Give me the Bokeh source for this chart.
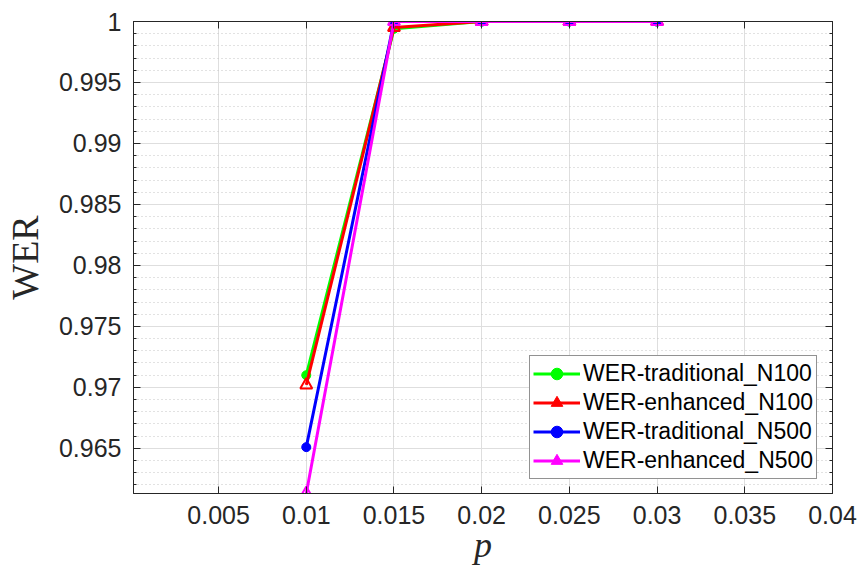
from bokeh.plotting import figure
from bokeh.models import (FixedTicker, LinearAxis, Legend, LegendItem, Range1d,
                          CustomLabelingPolicy)
from bokeh.embed import file_html
from bokeh.resources import INLINE

# ---- data ----
p_vals = [0.01, 0.015, 0.02, 0.025, 0.03]
wer_trad_n100 = [0.9710, 0.9994, 1.0, 1.0, 1.0]
wer_enh_n100 = [0.9702, 0.9995, 1.0, 1.0, 1.0]
wer_trad_n500 = [0.9651, 1.0, 1.0, 1.0, 1.0]
wer_enh_n500 = [0.9613, 1.0, 1.0, 1.0, 1.0]

x_ticks = [0.005, 0.01, 0.015, 0.02, 0.025, 0.03, 0.035, 0.04]
x_tick_labels = ["0.005", "0.01", "0.015", "0.02", "0.025", "0.03", "0.035", "0.04"]
y_ticks = [0.965, 0.97, 0.975, 0.98, 0.985, 0.99, 0.995, 1.0]
y_tick_labels = ["0.965", "0.97", "0.975", "0.98", "0.985", "0.99", "0.995", "1"]
y_minor = [round(0.962 + 0.001 * i, 3) for i in range(39)]

series_names = ["WER-traditional_N100", "WER-enhanced_N100",
                "WER-traditional_N500", "WER-enhanced_N500"]

AX = "#262626"
TICK_FONT = "Liberation Sans"

FW, FH = 699, 472
p = figure(frame_width=FW, frame_height=FH,
           x_range=Range1d(0.00015, 0.04), y_range=Range1d(0.9613, 1.0),
           output_backend="svg", toolbar_location=None,
           min_border_left=126, min_border_top=12, min_border_right=23,
           min_border_bottom=60, background_fill_color="white",
           border_fill_color="white")
p.outline_line_color = AX
p.outline_line_width = 1

xt = FixedTicker(ticks=x_ticks, minor_ticks=[])
yt = FixedTicker(ticks=y_ticks, minor_ticks=y_minor)

for ax in p.xaxis:
    ax.ticker = xt
    ax.major_label_overrides = dict(zip(x_ticks, x_tick_labels))
for ax in p.yaxis:
    ax.ticker = yt
    ax.major_label_overrides = dict(zip(y_ticks, y_tick_labels))

no_labels = CustomLabelingPolicy(code="""
for (let i = 0; i < indices.size; i++) { indices.unset(i) }
return indices
""")

def style_axis(ax, labels=True):
    ax.axis_line_color = AX
    ax.major_tick_line_color = AX
    ax.minor_tick_line_color = AX
    ax.major_tick_in = 7
    ax.major_tick_out = 0
    ax.minor_tick_in = 3
    ax.minor_tick_out = 0
    ax.major_label_text_color = AX
    ax.major_label_text_font = TICK_FONT
    ax.major_label_text_font_size = "25px"
    if not labels:
        ax.major_label_policy = no_labels
        ax.major_label_standoff = 0

style_axis(p.xaxis[0])
style_axis(p.yaxis[0])
p.xaxis[0].major_label_standoff = 12
p.yaxis[0].major_label_standoff = 12

p.xaxis.axis_label = "p"
p.xaxis.axis_label_text_font = "Liberation Serif"
p.xaxis.axis_label_text_font_style = "italic"
p.xaxis.axis_label_text_font_size = "36px"
p.xaxis.axis_label_text_color = AX
p.xaxis.axis_label_standoff = -2

p.yaxis.axis_label = "WER"
p.yaxis.axis_label_text_font = "Liberation Serif"
p.yaxis.axis_label_text_font_style = "normal"
p.yaxis.axis_label_text_font_size = "38px"
p.yaxis.axis_label_text_color = AX
p.yaxis.axis_label_standoff = 10

top_ax = LinearAxis(ticker=xt)
style_axis(top_ax, labels=False)
p.add_layout(top_ax, "above")
right_ax = LinearAxis(ticker=yt)
style_axis(right_ax, labels=False)
p.add_layout(right_ax, "right")

p.xgrid.grid_line_color = "#dedede"
p.ygrid.grid_line_color = "#dedede"
p.ygrid.minor_grid_line_color = "#c4c4c4"
p.ygrid.minor_grid_line_dash = "1 3"
p.ygrid.minor_grid_line_width = 1

colors = ["#00ff00", "#ff0000", "#0000ff", "#ff00ff"]
markers = ["circle", "triangle", "circle", "triangle"]
data = [wer_trad_n100, wer_enh_n100, wer_trad_n500, wer_enh_n500]
nan = float("nan")

items = []
for name, ys, c, m in zip(series_names, data, colors, markers):
    ln = p.line(p_vals, ys, line_color=c, line_width=3)
    if m == "circle":
        sc = p.scatter(p_vals, ys, marker="circle", size=9, fill_color=c,
                       line_color=c, line_width=1)
        items.append(LegendItem(label=name, renderers=[ln, sc]))
    else:
        sc = p.scatter(p_vals, ys, marker="triangle", size=12, fill_color=None,
                       line_color=c, line_width=2)
        leg = p.scatter(x=[nan], y=[nan], marker="triangle", size=10,
                        fill_color=c, line_color=c, line_width=1)
        items.append(LegendItem(label=name, renderers=[ln, leg]))

legend = Legend(items=items, location=(396, 14))
legend.label_text_font = TICK_FONT
legend.label_text_font_size = "23px"
legend.label_text_color = "black"
legend.glyph_width = 47
legend.glyph_height = 29
legend.label_height = 29
legend.spacing = 0
legend.padding = 3
legend.margin = 0
legend.label_standoff = 3
legend.border_line_color = AX
legend.border_line_width = 1
legend.background_fill_color = "white"
legend.background_fill_alpha = 1
p.add_layout(legend, "center")

open("out.html", "w").write(file_html(p, INLINE))
